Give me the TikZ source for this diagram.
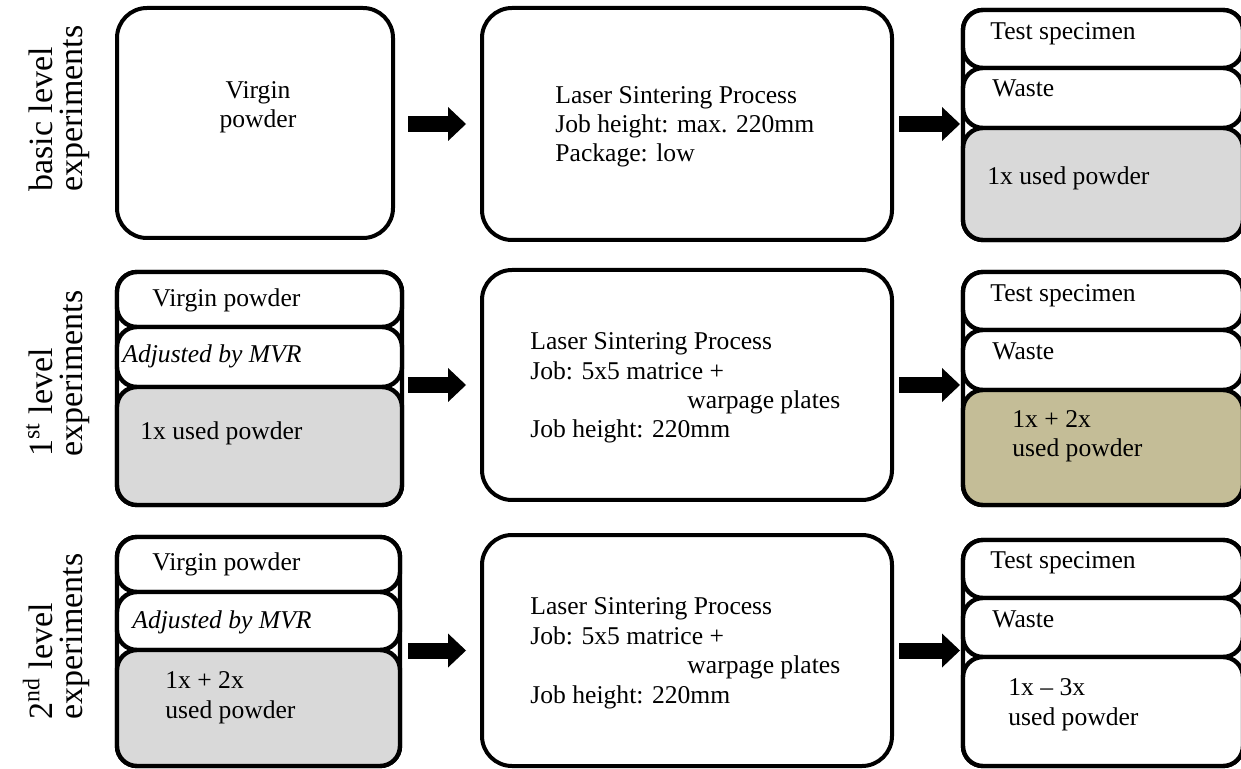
\documentclass[tikz,border=0pt]{standalone}
\usepackage{fontspec}
\setmainfont{Liberation Serif}
\usetikzlibrary{arrows.meta,fit,calc}
\definecolor{powdergray}{HTML}{D9D9D9}
\definecolor{powdertan}{HTML}{C4BD97}
\begin{document}
\begin{tikzpicture}[x=0.5pt,y=-0.5pt,
  bigbox/.style={draw=black, line width=2pt, rounded corners=15pt, fill=white, inner sep=0pt},
  stackbox/.style={draw=black, line width=2.2pt, rounded corners=10pt, fill=white, inner sep=0pt},
  part/.style={draw=black, line width=2.2pt, rounded corners=10pt, fill=white, inner sep=0pt},
  % multi-line texts are placed by the baseline of their last line
  txt/.style={font=\fontsize{12.8}{14.7}\selectfont, inner sep=0pt, anchor=base west, align=left},
  lbl/.style={font=\fontsize{17}{15}\selectfont, rotate=90, inner sep=0pt, align=left, anchor=base west},
  flow/.style={line width=8pt, -{Triangle[length=9pt, width=17pt, line width=0pt]}}]
\useasboundingbox (0,0) rectangle (1241,769);
\clip (0,0) rectangle (1241,769);

% ---------- basic level ----------
\node[lbl] (lab1) at (82,192) {basic level\\experiments};
\node[bigbox, fit={(117,8)(393,238)}] (L1) {};
\node[bigbox, fit={(482,8)(892,240)}] (M1) {};
\node[stackbox, fit={(963,10)(1243,240)}] (R1) {};
\node[part, fit={(963,10)(1243,68)}] (R1a) {};
\node[part, fit={(963,68)(1243,128)}] (R1b) {};
\node[part, fill=powdergray, fit={(963,128)(1243,240)}] (R1c) {};

\node[txt, anchor=base, align=center] (tL1) at (258,128) {Virgin\\powder};
\node[txt] (tM1) at (555,162) {Laser Sintering Process\\Job height: max. 220mm\\Package: low};
\node[txt] (tR1a) at (990,40) {Test specimen};
\node[txt] (tR1b) at (992,97) {Waste};
\node[txt] (tR1c) at (987,185) {1x used powder};

% ---------- 1st level ----------
\node[lbl] (lab2) at (82,457) {1\textsuperscript{st} level\\experiments};
\node[stackbox, fit={(117,272)(402,505)}] (L2) {};
\node[part, fit={(117,272)(402,327)}] (L2a) {};
\node[part, fit={(117,327)(402,387)}] (L2b) {};
\node[part, fill=powdergray, fit={(117,387)(402,505)}] (L2c) {};
\node[bigbox, fit={(482,270)(892,500)}] (M2) {};
\node[stackbox, fit={(963,272)(1243,505)}] (R2) {};
\node[part, fit={(963,272)(1243,330)}] (R2a) {};
\node[part, fit={(963,330)(1243,390)}] (R2b) {};
\node[part, fill=powdertan, fit={(963,390)(1243,505)}] (R2c) {};

\node[txt] (tL2a) at (152,307) {Virgin powder};
\node[txt] (tL2b) at (122,363) {\itshape Adjusted by MVR};
\node[txt] (tL2c) at (140,440) {1x used powder};
\node[txt] (tM2) at (530,438) {Laser Sintering Process\\Job: 5x5 matrice +\\\hspace*{78.5pt}warpage plates\\Job height: 220mm};
\node[txt] (tR2a) at (990,302) {Test specimen};
\node[txt] (tR2b) at (992,360) {Waste};
\node[txt] (tR2c) at (1012,457) {1x + 2x\\used powder};

% ---------- 2nd level ----------
\node[lbl] (lab3) at (82,720) {2\textsuperscript{nd} level\\experiments};
\node[stackbox, fit={(117,537)(400,766)}] (L3) {};
\node[part, fit={(117,537)(400,592)}] (L3a) {};
\node[part, fit={(117,592)(400,650)}] (L3b) {};
\node[part, fill=powdergray, fit={(117,650)(400,766)}] (L3c) {};
\node[bigbox, fit={(482,535)(892,766)}] (M3) {};
\node[stackbox, fit={(963,540)(1243,766)}] (R3) {};
\node[part, fit={(963,540)(1243,598)}] (R3a) {};
\node[part, fit={(963,598)(1243,657)}] (R3b) {};
\node[part, fit={(963,657)(1243,766)}] (R3c) {};

\node[txt] (tL3a) at (152,570) {Virgin powder};
\node[txt] (tL3b) at (132,628) {\itshape Adjusted by MVR};
\node[txt] (tL3c) at (165,718) {1x + 2x\\used powder};
\node[txt] (tM3) at (530,703) {Laser Sintering Process\\Job: 5x5 matrice +\\\hspace*{78.5pt}warpage plates\\Job height: 220mm};
\node[txt] (tR3a) at (990,568) {Test specimen};
\node[txt] (tR3b) at (992,627) {Waste};
\node[txt] (tR3c) at (1008,725) {1x -- 3x\\used powder};

% ---------- flow arrows ----------
\foreach \r in {1,2,3}{
  \draw[flow] ($(M\r.west)+(-72,0)$) -- ($(M\r.west)+(-14,0)$);
  \draw[flow] ($(M\r.east)+(5,0)$) -- ($(M\r.east)+(66,0)$);
}
\end{tikzpicture}
\end{document}
